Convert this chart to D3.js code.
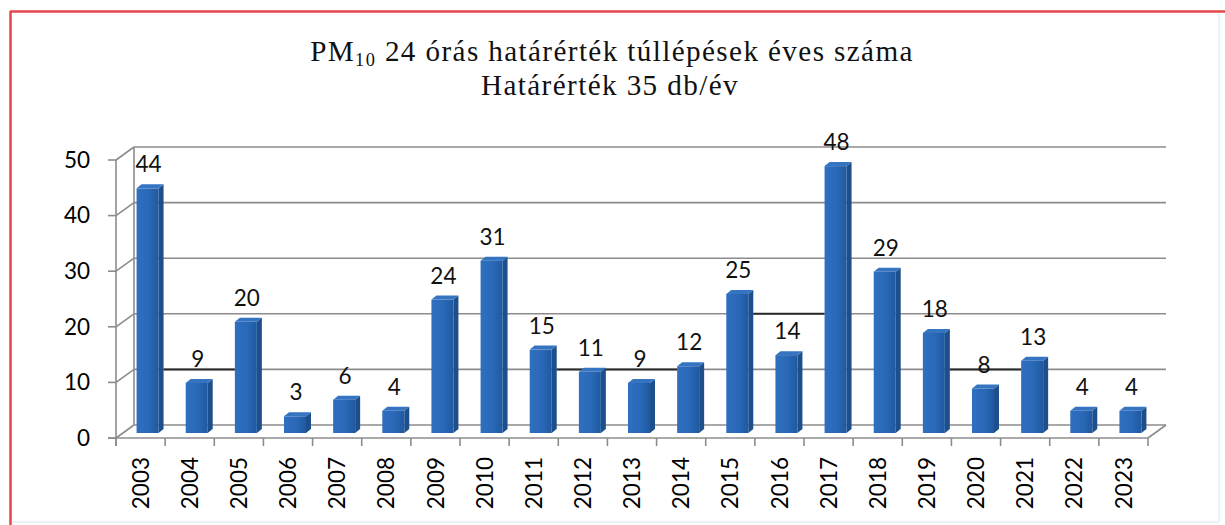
<!DOCTYPE html>
<html>
<head>
<meta charset="utf-8">
<script src="https://cdn.jsdelivr.net/npm/d3@7"></script>
<style>
  html, body { margin: 0; padding: 0; background: #ffffff; }
  svg { display: block; }
</style>
</head>
<body>
<svg id="chart" width="1225" height="525"></svg>
<script>
// ---- data ----
const years = ["2003","2004","2005","2006","2007","2008","2009","2010","2011","2012","2013",
               "2014","2015","2016","2017","2018","2019","2020","2021","2022","2023"];
const exceedances = [44, 9, 20, 3, 6, 4, 24, 31, 15, 11, 9, 12, 25, 14, 48, 29, 18, 8, 13, 4, 4];
const yTicks = [0, 10, 20, 30, 40, 50];
const titleMain = "PM";
const titleSub = "10";
const titleRest = "  24 órás határérték túllépések éves száma";
const titleLine2 = "Határérték 35 db/év";
// darker stretches of gridline visible in the reference: [first year, last year, level]
const darkFrom = ["2004", "2012", "2016", "2020"];
const darkTo   = ["2004", "2013", "2016", "2020"];
const darkLevel = [10, 10, 20, 10];

// ---- layout ----
const svg = d3.select("#chart");
const X0 = 116, X1 = 1148, Y0 = 438, Y50 = 160;
const backDx = 18, backDy = -13;   // depth of back wall
const barDx = 7, barDy = -5;       // bar plane depth
const sideD = 5, sideDy = -4;      // bar side thickness
const barW = 22;
const numFont = "Lato, 'Open Sans', sans-serif";
const numSize = 22.5;

const x = d3.scaleBand().domain(years).range([X0, X1]).padding(0);
const y = d3.scaleLinear().domain([0, 50]).range([Y0, Y50]);

const defs = svg.append("defs");
const grad = defs.append("linearGradient").attr("id", "front").attr("x1", 0).attr("x2", 1).attr("y1", 0).attr("y2", 0);
grad.append("stop").attr("offset", "0%").attr("stop-color", "#2f6fbf");
grad.append("stop").attr("offset", "55%").attr("stop-color", "#2a69b8");
grad.append("stop").attr("offset", "100%").attr("stop-color", "#1f59a0");

// border
svg.append("line").attr("x1", 10.5).attr("x2", 10.5).attr("y1", 11).attr("y2", 525)
  .attr("stroke", "#e2474c").attr("stroke-width", 2.5);
svg.append("line").attr("x1", 10).attr("x2", 1225).attr("y1", 11.5).attr("y2", 11.5)
  .attr("stroke", "#e2474c").attr("stroke-width", 2.5);
svg.append("line").attr("x1", 1219).attr("x2", 1219).attr("y1", 13).attr("y2", 522)
  .attr("stroke", "#e6eef0").attr("stroke-width", 1.5);
svg.append("line").attr("x1", 12).attr("x2", 1219).attr("y1", 522).attr("y2", 522)
  .attr("stroke", "#e6eef0").attr("stroke-width", 1.5);

// title
const titleFont = "'Liberation Serif', 'DejaVu Serif', serif";
const t1 = svg.append("text").attr("x", 612).attr("y", 61).attr("text-anchor", "middle")
  .attr("font-family", titleFont).attr("font-size", 27).attr("fill", "#111");
t1.append("tspan").text(titleMain);
t1.append("tspan").attr("font-size", 17).attr("dy", 5).text(titleSub);
t1.append("tspan").attr("dy", -5).text(titleRest);
const t2 = svg.append("text").attr("x", 610).attr("y", 95).attr("text-anchor", "middle")
  .attr("font-family", titleFont).attr("font-size", 27).attr("fill", "#111")
  .text(titleLine2);
// fit widths to reference: modest size scaling, then letter spacing
(function fit() {
  const w1 = t1.node().getComputedTextLength();
  if (w1 > 0) {
    const k = Math.min(605 / w1, 1.08);
    t1.attr("font-size", 27 * k);
    t1.selectAll("tspan").filter((d, i) => i === 1).attr("font-size", 17 * k);
    const w1b = t1.node().getComputedTextLength();
    const n1 = (titleMain + titleSub + titleRest).length;
    if (w1b < 605) t1.attr("letter-spacing", (605 - w1b) / n1);
  }
  const w2 = t2.node().getComputedTextLength();
  if (w2 > 0) {
    t2.attr("font-size", 27 * Math.min(258 / w2, 1.08));
    const w2b = t2.node().getComputedTextLength();
    if (w2b < 258) t2.attr("letter-spacing", (258 - w2b) / titleLine2.length);
  }
})();

const grid = svg.append("g");
const gridColor = "#8c8c8c";

// back wall gridlines
grid.selectAll("line.h").data(yTicks).join("line")
  .attr("x1", X0 + backDx).attr("x2", X1 + backDx)
  .attr("y1", d => y(d) + backDy).attr("y2", d => y(d) + backDy)
  .attr("stroke", gridColor).attr("stroke-width", 1.6);
// side diagonals on the left wall
grid.selectAll("line.d").data(yTicks).join("line")
  .attr("x1", X0).attr("x2", X0 + backDx)
  .attr("y1", d => y(d)).attr("y2", d => y(d) + backDy)
  .attr("stroke", gridColor).attr("stroke-width", 1.6);
// back wall left edge
grid.append("line").attr("x1", X0 + backDx).attr("x2", X0 + backDx)
  .attr("y1", y(50) + backDy).attr("y2", y(0) + backDy)
  .attr("stroke", gridColor).attr("stroke-width", 1.6);
// floor right edge
grid.append("line").attr("x1", X1).attr("x2", X1 + backDx)
  .attr("y1", y(0)).attr("y2", y(0) + backDy)
  .attr("stroke", gridColor).attr("stroke-width", 1.6);

// dark gridline stretches
const faceLeft = d => x(d) + x.bandwidth() / 2 - barW / 2 + barDx;
darkFrom.forEach((f, i) => {
  const iFrom = years.indexOf(f), iTo = years.indexOf(darkTo[i]);
  const xa = faceLeft(years[iFrom - 1]) + barW + sideD;
  const xb = faceLeft(years[iTo + 1]);
  grid.append("line").attr("x1", xa).attr("x2", xb)
    .attr("y1", y(darkLevel[i]) + backDy).attr("y2", y(darkLevel[i]) + backDy)
    .attr("stroke", "#2a2a2a").attr("stroke-width", 2);
});

// front axes
const axisColor = "#8c8c8c";
svg.append("line").attr("x1", X0).attr("x2", X0).attr("y1", y(50)).attr("y2", y(0) + 8)
  .attr("stroke", axisColor).attr("stroke-width", 1.6);
svg.append("line").attr("x1", X0 - 8).attr("x2", X1).attr("y1", y(0)).attr("y2", y(0))
  .attr("stroke", axisColor).attr("stroke-width", 1.6);
svg.selectAll("line.yt").data(yTicks).join("line")
  .attr("x1", X0 - 8).attr("x2", X0).attr("y1", d => y(d)).attr("y2", d => y(d))
  .attr("stroke", axisColor).attr("stroke-width", 1.6);
const bounds = years.map(d => x(d)).concat([X1]);
svg.selectAll("line.xt").data(bounds).join("line")
  .attr("x1", d => d).attr("x2", d => d).attr("y1", y(0)).attr("y2", y(0) + 8)
  .attr("stroke", axisColor).attr("stroke-width", 1.6);

// y tick labels
svg.selectAll("text.yl").data(yTicks).join("text")
  .attr("x", 90).attr("y", d => y(d)).attr("dy", "0.35em").attr("text-anchor", "end")
  .attr("font-family", numFont).attr("font-size", numSize).attr("fill", "#000")
  .text(d => d);

// x labels (rotated)
svg.selectAll("text.xl").data(years).join("text")
  .attr("transform", d => `translate(${x(d) + x.bandwidth() / 2},457) rotate(-90)`)
  .attr("dy", "0.36em").attr("text-anchor", "end")
  .attr("font-family", numFont).attr("font-size", numSize).attr("fill", "#000")
  .text(d => d);

// bars
const data = years.map((yr, i) => ({ yr, v: exceedances[i] }));
const bars = svg.append("g").selectAll("g").data(data).join("g");
bars.each(function (d) {
  const g = d3.select(this);
  const xl = faceLeft(d.yr), xr = xl + barW;
  const yb = y(0) + barDy, yt = y(d.v) + barDy;
  g.append("path").attr("d", `M${xr},${yb} L${xr + sideD},${yb + sideDy} L${xr + sideD},${yt + sideDy} L${xr},${yt} Z`)
    .attr("fill", "#1d4f8c");
  g.append("path").attr("d", `M${xl},${yt} L${xl + sideD},${yt + sideDy} L${xr + sideD},${yt + sideDy} L${xr},${yt} Z`)
    .attr("fill", "#3574c0");
  g.append("rect").attr("x", xl).attr("y", yt).attr("width", barW).attr("height", yb - yt)
    .attr("fill", "url(#front)");
});

// value labels
svg.selectAll("text.vl").data(data).join("text")
  .attr("x", d => faceLeft(d.yr) + barW / 2 + 1)
  .attr("y", d => y(d.v) + barDy - 16)
  .attr("text-anchor", "middle")
  .attr("font-family", numFont).attr("font-size", numSize).attr("fill", "#111")
  .text(d => d.v);
</script>
</body>
</html>
